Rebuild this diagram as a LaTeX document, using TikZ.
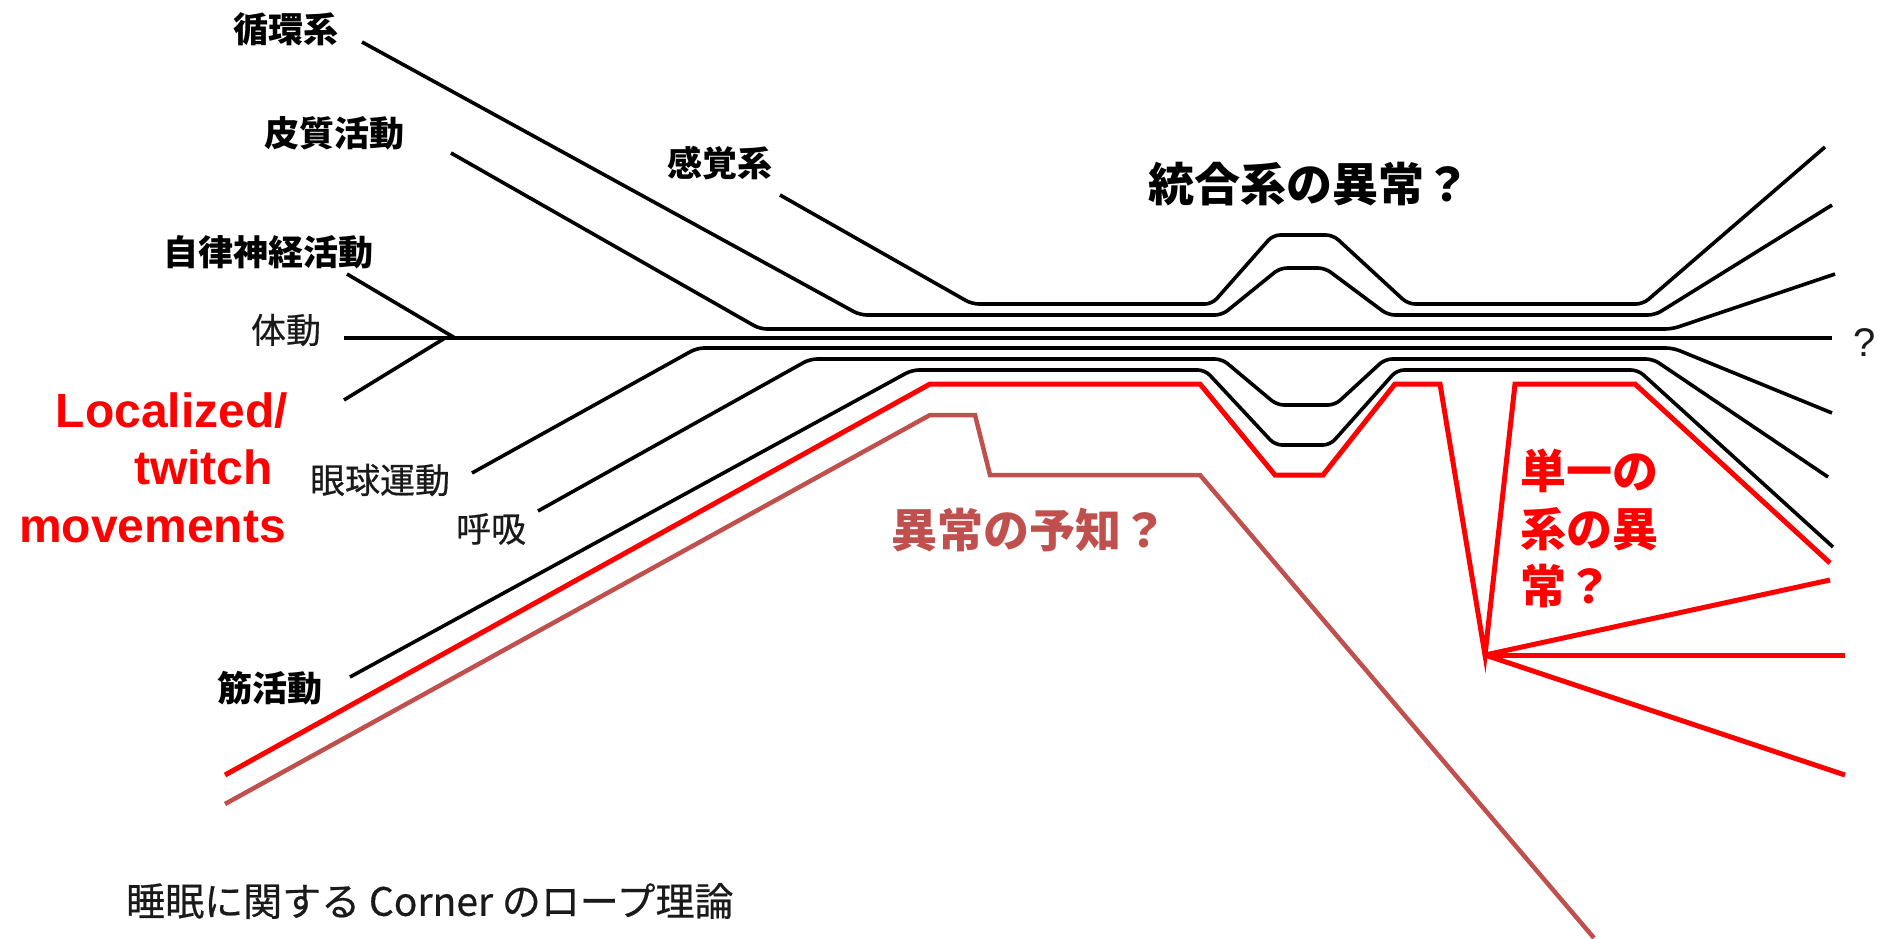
\documentclass[tikz,border=0pt]{standalone}
\usepackage{fontspec}
\setmainfont{Liberation Sans}
\newfontfamily\jp{Noto Sans CJK JP}
\newfontfamily\jpmed[FakeBold=0.5]{Noto Sans CJK JP}
\definecolor{brownred}{HTML}{C0504D}
\definecolor{labelgray}{HTML}{1A1A1A}
\begin{document}
\begin{tikzpicture}[x=1pt,y=-1pt,
  rope/.style={line width=3.6pt, black, rounded corners=7pt},
  redrope/.style={line width=5pt, red},
  brownrope/.style={line width=4.5pt, brownred},
  lab/.style={font=\jp\bfseries\fontsize{35}{40}\selectfont, inner sep=0pt},
  lablight/.style={font=\jpmed\fontsize{35}{40}\selectfont, text=labelgray, inner sep=0pt},
  enred/.style={font=\bfseries\fontsize{48}{56}\selectfont, text=red, inner sep=0pt, anchor=base east},
  bigjp/.style={font=\jp\bfseries\fontsize{46}{56}\selectfont, inner sep=0pt},
]
\useasboundingbox[fill=white] (0,0) rectangle (1879,938);

% labels
\node[lab] (circ) at (286,29) {循環系};
\node[lab] (cort) at (334,133) {皮質活動};
\node[lab] (sens) at (720,163) {感覚系};
\node[lab] (auto) at (268,252) {自律神経活動};
\node[lablight] (body) at (286,330) {体動};
\node[lablight] (eye) at (380,480) {眼球運動};
\node[lablight] (resp) at (491,529) {呼吸};
\node[lab] (musc) at (270,688) {筋活動};

\node[enred] (loc1) at (288,427) {Localized/};
\node[enred] (loc2) at (273,484) {twitch};
\node[enred] (loc3) at (286,542) {movements};

\node[bigjp] (integ) at (1309,184) {統合系の異常？};
\node[bigjp, text=brownred] (prem) at (1029,530) {異常の予知？};
\node[bigjp, text=red, anchor=west] (single1) at (1520,471) {単一の};
\node[bigjp, text=red, anchor=west] (single2) at (1520,529) {系の異};
\node[bigjp, text=red, anchor=west] (single3) at (1520,586) {常？};
\node[font=\fontsize{40}{44}\selectfont, text=labelgray, inner sep=0pt] (qm) at (1865,343) {?};
\node[font=\jpmed\fontsize{39}{44}\selectfont, text=labelgray, inner sep=0pt, anchor=west] (cap) at (126,901) {睡眠に関する Corner のロープ理論};

% black rope strands
\draw[rope] (780,195) -- (972,304) -- (1212,304) -- (1273,235) -- (1333,235) -- (1408,304) -- (1643,304) -- (1825,147);
\draw[rope] (362,42) -- (860,315) -- (1222,315) -- (1280,268) -- (1325,268) -- (1388,315) -- (1655,315) -- (1832,205);
\draw[rope] (451,153) -- (760,329) -- (1672,329) -- (1835,274);
\draw[rope] (344,338) -- (1832,338);
\draw[rope] (347,274) -- (455,338);
\draw[rope] (344,400) -- (445,338);
\draw[rope] (472,473) -- (697,348) -- (1673,348) -- (1832,413);
\draw[rope] (538,511) -- (810,359) -- (1222,359) -- (1277,405) -- (1335,405) -- (1385,359) -- (1653,359) -- (1828,477);
\draw[rope] (350,677) -- (912,370) -- (1205,370) -- (1275,445) -- (1330,445) -- (1397,370) -- (1638,370) -- (1833,547);

% red strand
\coordinate (junc) at (1485,655);
\draw[redrope] (225,775) -- (930,384) -- (1200,384) -- (1275,475) -- (1323,475) -- (1395,384) -- (1440,384) -- (junc) -- (1515,384) -- (1635,384) -- (1830,563);
\draw[redrope] (junc) -- (1830,580);
\draw[redrope] (junc) -- (1845,655);
\draw[redrope] (junc) -- (1845,775);

% brown strand
\draw[brownrope] (225,804) -- (930,415) -- (975,415) -- (990,475) -- (1200,475) -- (1594,938);
\end{tikzpicture}
\end{document}
